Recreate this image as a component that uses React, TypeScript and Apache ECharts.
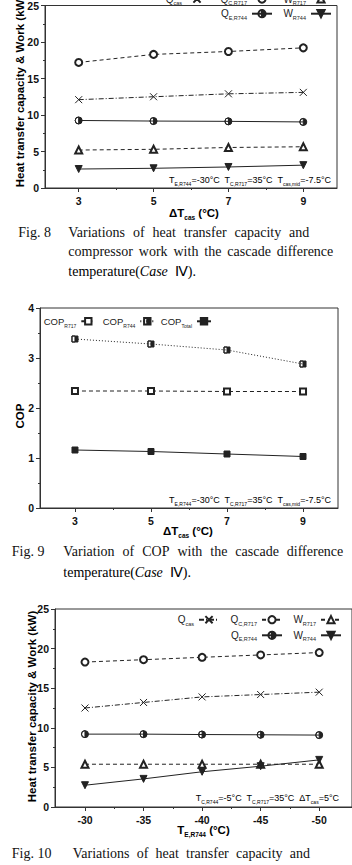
import React, { useEffect, useRef } from 'react';
import * as echarts from 'echarts';

// ---------- data ----------
const dTcas = [3, 5, 7, 9];
const f8Qcas = [12.1, 12.5, 12.9, 13.1];
const f8QcR717 = [17.2, 18.3, 18.7, 19.2];
const f8WR717 = [5.2, 5.3, 5.55, 5.65];
const f8QeR744 = [9.25, 9.17, 9.13, 9.05];
const f8WR744 = [2.6, 2.7, 2.88, 3.13];

const copR717 = [2.34, 2.34, 2.33, 2.33];
const copR744 = [3.38, 3.28, 3.16, 2.88];
const copTotal = [1.16, 1.13, 1.08, 1.03];

const teR744 = [-30, -35, -40, -45, -50];
const f10Qcas = [12.5, 13.2, 13.9, 14.2, 14.5];
const f10QcR717 = [18.3, 18.6, 18.9, 19.2, 19.5];
const f10WR717 = [5.4, 5.4, 5.4, 5.4, 5.4];
const f10QeR744 = [9.2, 9.2, 9.15, 9.12, 9.08];
const f10WR744 = [2.75, 3.55, 4.45, 5.15, 5.95];

const dTcasTicks = [3, 5, 7, 9];
const dTcasMinor = [4, 6, 8];
const teTicks = [-30, -35, -40, -45, -50];
const teMinor = [-32.5, -37.5, -42.5, -47.5];

// ---------- styles ----------
const FONT = '"Liberation Sans", Arial, sans-serif';
const SERIF = '"Liberation Serif", "Times New Roman", serif';
const AX = '#333';
const INK = '#222';

const HALF_CIRCLE = 'path://M0,-10A10,10,0,1,1,0,10A10,10,0,1,1,0,-10ZM0,-10A10,10,0,0,0,0,10Z';
const HALF_SQUARE = 'path://M-10,-10L10,-10L10,10L-10,10ZM-10,-10L-10,10L0,10L0,-10Z';
const CROSS = 'path://M0,0L10,10M10,0L0,10';

const KIND: Record<string, any> = {
  cross: { symbol: CROSS, type: [5, 2, 1, 2], size: 7, rot: 0 },
  ocircle: { symbol: 'emptyCircle', type: [4, 3], size: 7, rot: 0 },
  otri: { symbol: 'emptyTriangle', type: [4, 3], size: 7, rot: 0 },
  hcircle: { symbol: HALF_CIRCLE, type: 'solid', size: 7, rot: 0 },
  dtri: { symbol: 'triangle', type: 'solid', size: 7, rot: 180 },
  osq: { symbol: 'emptyRect', type: [4, 3], size: 6, rot: 0 },
  hsq: { symbol: HALF_SQUARE, type: [1, 2], size: 6, rot: 0 },
  fsq: { symbol: 'rect', type: 'solid', size: 6, rot: 0 },
};

function line(name: string, xs: number[], ys: number[], kind: string, xi: number, yi: number) {
  const k = KIND[kind];
  return {
    type: 'line',
    name,
    xAxisIndex: xi,
    yAxisIndex: yi,
    data: xs.map((x, i) => [x, ys[i]]),
    symbol: k.symbol,
    symbolSize: k.size,
    symbolRotate: k.rot,
    lineStyle: { color: INK, width: 1, type: k.type },
    itemStyle: { color: INK, borderColor: INK, borderWidth: 1 },
    emphasis: { disabled: true },
    silent: true,
  };
}

const LABEL: Record<string, string> = {
  Qcas8: '{n|Q}{s|cas}',
  QcR7178: '{n|Q}{s|C,R717}',
  WR7178: '{n|W}{s|R717}',
  QeR7448: '{n|Q}{s|E,R744}',
  WR7448: '{n|W}{s|R744}',
  Qcas10: '{n|Q}{s|cas}',
  QcR71710: '{n|Q}{s|C,R717}',
  WR71710: '{n|W}{s|R717}',
  QeR74410: '{n|Q}{s|E,R744}',
  WR74410: '{n|W}{s|R744}',
  COPR717: '{n|COP}{s|R717}',
  COPR744: '{n|COP}{s|R744}',
  COPTotal: '{n|COP}{s|Total}',
};

const LEG_RICH = {
  n: { fontSize: 10, fontFamily: FONT, color: INK, lineHeight: 14 },
  s: { fontSize: 5.5, fontFamily: FONT, color: INK, lineHeight: 6, verticalAlign: 'bottom' },
};
const LEG_RICH_SMALL = {
  n: { fontSize: 9.5, fontFamily: FONT, color: INK, lineHeight: 14 },
  s: { fontSize: 5, fontFamily: FONT, color: INK, lineHeight: 6, verticalAlign: 'bottom' },
};

function lg(name: string, right: number, top: number, w = 20, h = 9, rich: any = LEG_RICH) {
  return {
    data: [name],
    right,
    top,
    itemWidth: w,
    itemHeight: h,
    padding: 0,
    align: 'right',
    selectedMode: false,
    formatter: (n: string) => LABEL[n],
    textStyle: { fontSize: 10, fontFamily: FONT, color: INK, rich },
  };
}

function xMajor(grid: number, min: number, max: number, vals: number[], inverse = false) {
  return {
    type: 'value', gridIndex: grid, min, max, inverse, position: 'bottom',
    axisLine: { show: true, onZero: false, lineStyle: { color: AX, width: 1 } },
    axisTick: { show: true, customValues: vals, length: 4, lineStyle: { color: AX } },
    axisLabel: { show: true, customValues: vals, margin: 7, fontSize: 10.5, fontWeight: 'bold', fontFamily: FONT, color: '#111' },
    splitLine: { show: false },
  };
}
function xMinor(grid: number, min: number, max: number, vals: number[], inverse = false) {
  return {
    type: 'value', gridIndex: grid, min, max, inverse, position: 'bottom',
    axisLine: { show: false, onZero: false },
    axisTick: { show: true, customValues: vals, length: 2, lineStyle: { color: AX } },
    axisLabel: { show: false },
    splitLine: { show: false },
  };
}
function yAx(grid: number, min: number, max: number, interval: number) {
  return {
    type: 'value', gridIndex: grid, min, max, interval,
    axisLine: { show: true, onZero: false, lineStyle: { color: AX, width: 1 } },
    axisTick: { show: true, length: 4, lineStyle: { color: AX } },
    minorTick: { show: true, splitNumber: 2, length: 2, lineStyle: { color: AX } },
    axisLabel: { margin: 6, fontSize: 10.5, fontWeight: 'bold', fontFamily: FONT, color: '#111' },
    splitLine: { show: false },
    minorSplitLine: { show: false },
  };
}

const TITLE_RICH = {
  t: { fontSize: 11.5, fontWeight: 'bold', fontFamily: FONT, color: '#111', lineHeight: 16 },
  u: { fontSize: 6.5, fontWeight: 'bold', fontFamily: FONT, color: '#111', lineHeight: 7, verticalAlign: 'bottom' },
};
const NOTE_RICH = {
  a: { fontSize: 9, fontFamily: FONT, color: INK, lineHeight: 13 },
  b: { fontSize: 5, fontFamily: FONT, color: INK, lineHeight: 5, verticalAlign: 'bottom' },
};
const CAP_RICH = {
  r: { fontSize: 14, fontFamily: SERIF, color: '#111' },
  i: { fontSize: 14, fontFamily: SERIF, fontStyle: 'italic', color: '#111' },
};

function txt(x: number, y: number, text: string, rich: any, align = 'center', rotation = 0) {
  return {
    type: 'text', x, y, rotation, silent: true,
    style: { text, rich, align, verticalAlign: 'middle' },
  };
}

function justify(words: string[], x0: number, x1: number, y: number) {
  const font = '14px "Liberation Serif"';
  const ctx = document.createElement('canvas').getContext('2d') as CanvasRenderingContext2D;
  ctx.font = font;
  const ws = words.map((w) => ctx.measureText(w).width);
  const total = ws.reduce((a, b) => a + b, 0);
  const gap = (x1 - x0 - total) / (words.length - 1);
  let x = x0;
  return words.map((w, i) => {
    const el = {
      type: 'text', x, y, silent: true,
      style: { text: w, fontSize: 14, fontFamily: SERIF, fill: '#111', align: 'left', verticalAlign: 'middle' },
    };
    x += ws[i] + gap;
    return el;
  });
}
function plain(x: number, y: number, text: string) {
  return {
    type: 'text', x, y, silent: true,
    style: { text, fontSize: 14, fontFamily: SERIF, fill: '#111', align: 'left', verticalAlign: 'middle' },
  };
}

export default function App() {
  const ref = useRef<HTMLDivElement>(null);
  useEffect(() => {
    if (!ref.current) return;
    const chart = echarts.init(ref.current, undefined, { renderer: 'svg' });
    const graphic: any[] = [
      // axis titles
      txt(20, 91.5, '{t|Heat transfer capacity & Work (kW)}', TITLE_RICH, 'center', Math.PI / 2),
      txt(194, 213, '{t|ΔT}{u|cas}{t| (°C)}', TITLE_RICH),
      txt(19.5, 416, '{t|COP}', TITLE_RICH, 'center', Math.PI / 2),
      txt(188, 531, '{t|ΔT}{u|cas}{t| (°C)}', TITLE_RICH),
      txt(31.5, 706.5, '{t|Heat transfer capacity & Work (kW)}', TITLE_RICH, 'center', Math.PI / 2),
      txt(203.5, 830, '{t|T}{u|E,R744}{t| (°C)}', TITLE_RICH),
      // notes
      txt(331, 180, '{a|T}{b|E,R744}{a|=-30°C  T}{b|C,R717}{a|=35°C  T}{b|cas,mid}{a|=-7.5°C}', NOTE_RICH, 'right'),
      txt(331, 500, '{a|T}{b|E,R744}{a|=-30°C  T}{b|C,R717}{a|=35°C  T}{b|cas,mid}{a|=-7.5°C}', NOTE_RICH, 'right'),
      txt(339, 798, '{a|T}{b|C,R744}{a|=-5°C  T}{b|C,R717}{a|=35°C  ΔT}{b|cas}{a|=5°C}', NOTE_RICH, 'right'),
      // captions
      plain(18.3, 232.7, 'Fig. 8'),
      ...justify(['Variations', 'of', 'heat', 'transfer', 'capacity', 'and'], 68.3, 309.3, 232.7),
      ...justify(['compressor', 'work', 'with', 'the', 'cascade', 'difference'], 68.3, 333.3, 251.7),
      txt(68.3, 271.7, '{r|temperature(}{i|Case}{r|  Ⅳ).}', CAP_RICH, 'left'),
      plain(11.7, 551.7, 'Fig. 9'),
      ...justify(['Variation', 'of', 'COP', 'with', 'the', 'cascade', 'difference'], 63.3, 343.3, 551.7),
      txt(63.3, 572.7, '{r|temperature(}{i|Case}{r|  Ⅳ).}', CAP_RICH, 'left'),
      plain(11.7, 853.3, 'Fig. 10'),
      ...justify(['Variations', 'of', 'heat', 'transfer', 'capacity', 'and'], 72.7, 310, 853.3),
    ];

    chart.setOption({
      animation: false,
      backgroundColor: '#fff',
      grid: [
        { left: 45, top: -12, width: 292, height: 200, show: true, borderColor: AX, borderWidth: 1, containLabel: false },
        { left: 40, top: 308, width: 298, height: 200, show: true, borderColor: AX, borderWidth: 1, containLabel: false },
        { left: 55, top: 609, width: 297, height: 198, show: true, borderColor: AX, borderWidth: 1, containLabel: false },
      ],
      xAxis: [
        xMajor(0, 2.1, 9.9, dTcasTicks),
        xMinor(0, 2.1, 9.9, dTcasMinor),
        xMajor(1, 2.08, 9.92, dTcasTicks),
        xMinor(1, 2.08, 9.92, dTcasMinor),
        xMajor(2, -52.8, -27.44, teTicks, true),
        xMinor(2, -52.8, -27.44, teMinor, true),
      ],
      yAxis: [yAx(0, 0, 25, 5), yAx(1, 0, 4, 1), yAx(2, 0, 25, 5)],
      legend: [
        lg('Qcas8', 144, -6),
        lg('QcR7178', 79, -6),
        lg('WR7178', 20, -6),
        lg('QeR7448', 79, 8.7),
        lg('WR7448', 20, 8.7),
        lg('COPR717', 255.7, 316.3, 14, 8, LEG_RICH_SMALL),
        lg('COPR744', 196.7, 316.3, 14, 8, LEG_RICH_SMALL),
        lg('COPTotal', 140, 316.3, 14, 8, LEG_RICH_SMALL),
        lg('Qcas10', 132, 614.7),
        lg('QcR71710', 69, 614.7),
        lg('WR71710', 10, 614.7),
        lg('QeR74410', 69, 630.3),
        lg('WR74410', 10, 630.3),
      ],
      series: [
        line('Qcas8', dTcas, f8Qcas, 'cross', 0, 0),
        line('QcR7178', dTcas, f8QcR717, 'ocircle', 0, 0),
        line('WR7178', dTcas, f8WR717, 'otri', 0, 0),
        line('QeR7448', dTcas, f8QeR744, 'hcircle', 0, 0),
        line('WR7448', dTcas, f8WR744, 'dtri', 0, 0),
        line('COPR717', dTcas, copR717, 'osq', 2, 1),
        line('COPR744', dTcas, copR744, 'hsq', 2, 1),
        line('COPTotal', dTcas, copTotal, 'fsq', 2, 1),
        line('Qcas10', teR744, f10Qcas, 'cross', 4, 2),
        line('QcR71710', teR744, f10QcR717, 'ocircle', 4, 2),
        line('WR71710', teR744, f10WR717, 'otri', 4, 2),
        line('QeR74410', teR744, f10QeR744, 'hcircle', 4, 2),
        line('WR74410', teR744, f10WR744, 'dtri', 4, 2),
      ],
      graphic,
    });
    return () => chart.dispose();
  }, []);
  return (
    <div
      ref={ref}
      style={{ position: 'absolute', left: 0, top: 0, width: 352, height: 865, background: '#fff' }}
    />
  );
}
